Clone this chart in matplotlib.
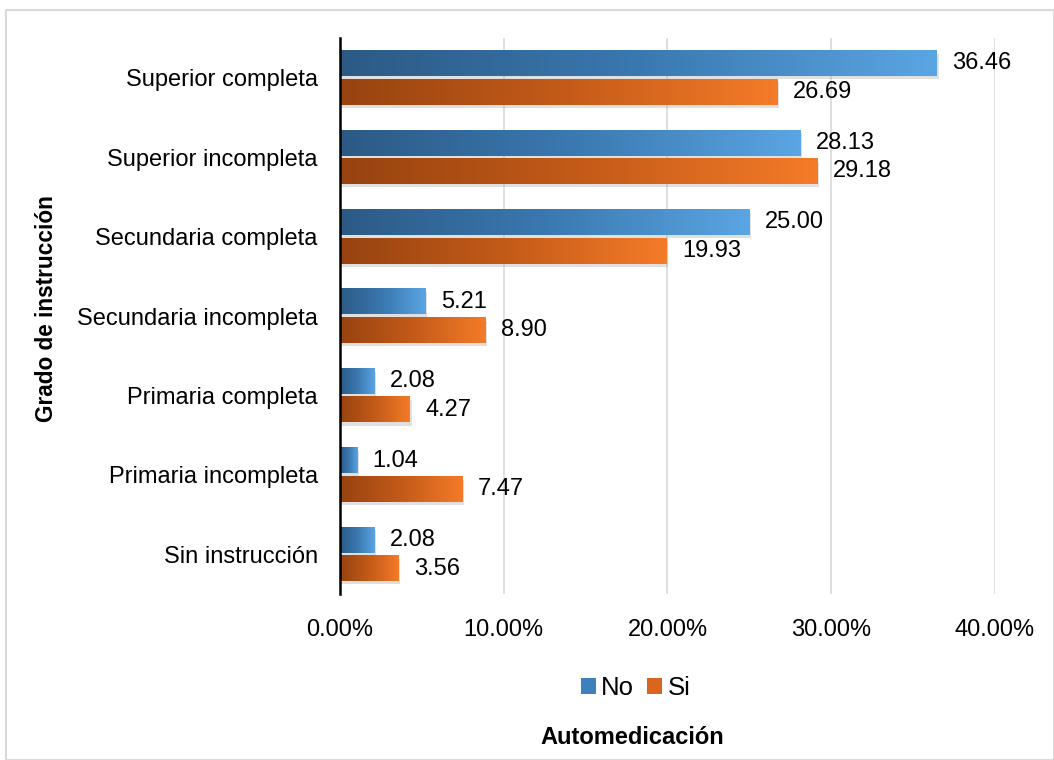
import matplotlib.pyplot as plt
import numpy as np
from matplotlib.colors import LinearSegmentedColormap
from matplotlib.patches import Rectangle

plt.rcParams['font.family'] = ['Liberation Sans', 'DejaVu Sans']

categorias = ['Superior completa', 'Superior incompleta', 'Secundaria completa',
              'Secundaria incompleta', 'Primaria completa', 'Primaria incompleta',
              'Sin instrucción']
no_vals = [36.46, 28.13, 25.00, 5.21, 2.08, 1.04, 2.08]
si_vals = [26.69, 29.18, 19.93, 8.90, 4.27, 7.47, 3.56]

cmap_no = LinearSegmentedColormap.from_list('no', ['#2C5A85', '#3A78B0', '#5AA5E3'])
cmap_si = LinearSegmentedColormap.from_list('si', ['#974310', '#C35A18', '#F47B28'])

fs = 17

fig = plt.figure(figsize=(10.54, 7.6), dpi=100)
fig.patches.append(Rectangle((0.006, 0.0), 0.994, 0.987, transform=fig.transFigure,
                             fill=False, edgecolor='#D9D9D9', linewidth=1.5))
ax = fig.add_axes([0.3226, 0.2184, 0.6214, 0.7316])

h = 0.32
grad = np.linspace(0, 1, 256).reshape(1, -1)
n = len(categorias)
for i, (a, b) in enumerate(zip(no_vals, si_vals)):
    y = n - 1 - i
    for val, yc, cm in [(a, y + h / 2 + 0.02, cmap_no), (b, y - h / 2 - 0.02, cmap_si)]:
        # sombra
        ax.add_patch(Rectangle((0, yc - h / 2 - 0.04), val / 100 + 0.001, h,
                               facecolor='#A8A8A8', alpha=0.35, edgecolor='none', zorder=2))
        ax.imshow(grad, cmap=cm, aspect='auto', zorder=3,
                  extent=[0, val / 100, yc - h / 2, yc + h / 2])
        ax.text(val / 100 + 0.0095, yc, f'{val:.2f}', va='center', ha='left', fontsize=fs,
                color='black', zorder=4)

ax.set_xlim(0, 0.40)
ax.set_ylim(-0.5, n - 0.5)
ax.set_yticks(range(n))
ax.set_yticklabels(categorias[::-1], fontsize=fs)
ax.set_xticks([0, 0.1, 0.2, 0.3, 0.4])
ax.set_xticklabels(['0.00%', '10.00%', '20.00%', '30.00%', '40.00%'], fontsize=fs)
ax.tick_params(axis='y', length=0, pad=16)
ax.tick_params(axis='x', length=0, pad=18)
ax.grid(axis='x', color='#D9D9D9', linewidth=1.2, zorder=0)
ax.set_axisbelow(True)
for s in ['top', 'right', 'bottom']:
    ax.spines[s].set_visible(False)
ax.spines['left'].set_linewidth(1.8)
ax.spines['left'].set_zorder(5)

ax.set_ylabel('Grado de instrucción', fontsize=16.3, fontweight='bold', labelpad=0)
ax.yaxis.set_label_coords(-0.43, 0.513)

# leyenda
lh = [Rectangle((0, 0), 1, 1, facecolor='#3F7FBC'), Rectangle((0, 0), 1, 1, facecolor='#D8661E')]
fig.legend(lh, ['No', 'Si'], loc='center', bbox_to_anchor=(0.603, 0.095), ncol=2, frameon=False,
           fontsize=fs + 1.5, handlelength=0.6, handleheight=0.6, handletextpad=0.2,
           columnspacing=0.5)
fig.text(0.600, 0.029, 'Automedicación', ha='center', va='center', fontsize=fs,
         fontweight='bold')

fig.savefig('out.png', dpi=100)
